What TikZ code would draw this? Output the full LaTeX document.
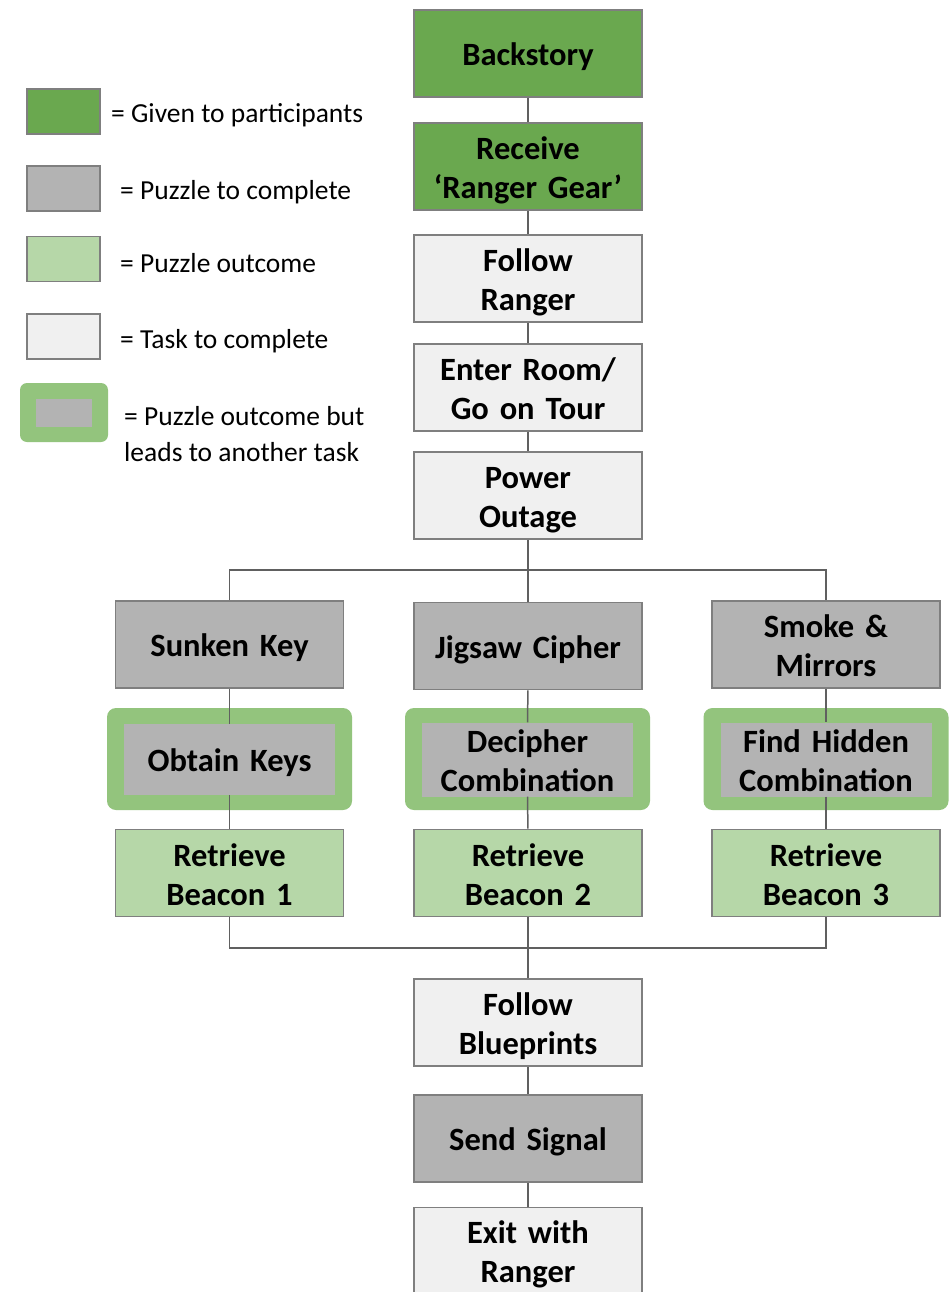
\documentclass[tikz,border=0pt]{standalone}
\usepackage{fontspec}
\setmainfont{Carlito}
\definecolor{dkgreen}{HTML}{6AA84F}
\definecolor{pgray}{HTML}{B3B3B3}
\definecolor{ltgreen}{HTML}{B6D7A8}
\definecolor{ltgray}{HTML}{F0F0F0}
\definecolor{frgreen}{HTML}{93C47D}
\definecolor{bord}{HTML}{7F7F7F}
\definecolor{conn}{HTML}{606060}
\begin{document}
\begin{tikzpicture}[x=1pt,y=-1pt,
  boxtext/.style={align=center, font=\bfseries\fontsize{32.5}{39}\selectfont,
    execute at begin node={\rule{0pt}{30pt}}, execute at end node={\rule[-5pt]{0pt}{5pt}}},
  box/.style={boxtext, draw=bord, line width=1.6pt, minimum width=228pt, minimum height=87pt,
    inner sep=0pt, text width=224pt},
  given/.style={box, fill=dkgreen},
  puzzle/.style={box, fill=pgray},
  outcome/.style={box, fill=ltgreen},
  task/.style={box, fill=ltgray},
  frame/.style={fill=frgreen, rounded corners=9pt, minimum width=245pt, minimum height=102pt, inner sep=0pt},
  inner/.style={boxtext, fill=pgray, minimum width=211pt, minimum height=71pt, inner sep=0pt,
    text width=211pt},
  legbox/.style={draw=bord, line width=1.6pt, minimum width=73pt, minimum height=45pt, inner sep=0pt},
  legtext/.style={anchor=west, inner sep=0pt, font=\fontsize{27.5}{36}\selectfont, align=left},
  link/.style={draw=conn, line width=1.5pt}
]
\useasboundingbox (0,0) rectangle (948,1292);
\fill[white] (0,0) rectangle (948,1292);

% legend
\node[legbox, fill=dkgreen] (l1) at (63.5,111.5) {};
\node[legbox, fill=pgray] (l2) at (63.5,188.5) {};
\node[legbox, fill=ltgreen] (l3) at (63.5,259) {};
\node[legbox, fill=ltgray] (l4) at (63.5,336.5) {};
\node[fill=frgreen, rounded corners=7pt, minimum width=88pt, minimum height=59pt, inner sep=0pt] (l5) at (64,412.5) {};
\node[fill=pgray, minimum width=56pt, minimum height=28pt, inner sep=0pt] (l5i) at (64,413) {};
\node[legtext] (t1) at (111,115) {= Given to participants};
\node[legtext] (t2) at (120,192) {= Puzzle to complete};
\node[legtext] (t3) at (120,263) {= Puzzle outcome};
\node[legtext] (t4) at (120,341) {= Task to complete};
\node[legtext] (t5) at (124,434) {= Puzzle outcome but\\leads to another task};

% main column
\node[given] (bs) at (528,53.5) {Backstory};
\node[given] (rg) at (528,166.5) {Receive\\‘Ranger Gear’};
\node[task] (fr) at (528,278.5) {Follow\\Ranger};
\node[task] (er) at (528,387.5) {Enter Room/\\Go on Tour};
\node[task] (po) at (528,495.5) {Power\\Outage};

% puzzles
\node[puzzle] (sk) at (229.5,644.5) {Sunken Key};
\node[puzzle] (jc) at (528,646) {Jigsaw Cipher};
\node[puzzle] (sm) at (826,644.5) {Smoke \&\\Mirrors};

% outcome frames
\node[frame] (f1) at (229.5,759) {};
\node[frame] (f2) at (527.5,759) {};
\node[frame] (f3) at (826,759) {};
\node[inner] (o1) at (229.5,759.5) {Obtain Keys};
\node[inner] (o2) at (527.5,759.5) {Decipher\\Combination};
\node[inner] (o3) at (826,759.5) {Find Hidden\\Combination};

% beacons
\node[outcome] (rb1) at (229.5,873) {Retrieve\\Beacon 1};
\node[outcome] (rb2) at (528,873) {Retrieve\\Beacon 2};
\node[outcome] (rb3) at (826,873) {Retrieve\\Beacon 3};

% bottom column
\node[task] (fb) at (528,1022.5) {Follow\\Blueprints};
\node[puzzle] (ss) at (528,1138.5) {Send Signal};
\node[task] (ex) at (528,1251) {Exit with\\Ranger};

\coordinate (br) at (528,570);
\coordinate (mg) at (528,948);

% connectors
\draw[link] (bs) -- (rg);
\draw[link] (rg) -- (fr);
\draw[link] (fr) -- (er);
\draw[link] (er) -- (po);
\draw[link] (po) -- (br);
\draw[link] (br) -- (jc);
\draw[link] (sk.north) |- (br) -| (sm.north);
\draw[link] (sk) -- (o1);
\draw[link] (jc) -- (o2);
\draw[link] (sm) -- (o3);
\draw[link] (o1) -- (rb1);
\draw[link] (o2) -- (rb2);
\draw[link] (o3) -- (rb3);
\draw[link] (rb1.south) |- (mg) -| (rb3.south);
\draw[link] (rb2) -- (mg);
\draw[link] (mg) -- (fb);
\draw[link] (fb) -- (ss);
\draw[link] (ss) -- (ex);
\end{tikzpicture}
\end{document}
